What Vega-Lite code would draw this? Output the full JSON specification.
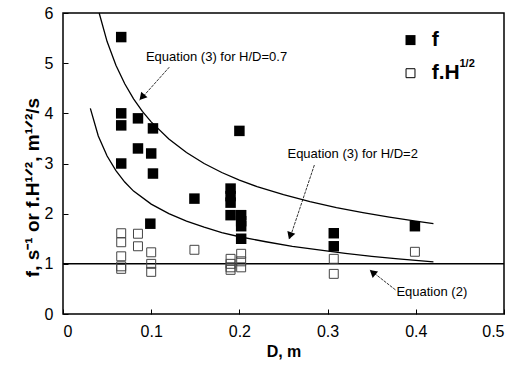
{
  "$schema": "https://vega.github.io/schema/vega-lite/v6.json",
  "width": 441,
  "height": 301,
  "autosize": {"type": "none"},
  "padding": {"left": 63, "top": 13, "right": 9, "bottom": 55},
  "background": "white",
  "config": {
    "view": {"stroke": "black", "strokeWidth": 1.5},
    "font": "Liberation Sans",
    "axis": {
      "grid": false,
      "domain": false,
      "labelFont": "Liberation Sans",
      "labelFontSize": 16,
      "labelColor": "black",
      "tickColor": "black",
      "titleFont": "Liberation Sans",
      "titleFontSize": 16,
      "titleFontWeight": "bold",
      "titleColor": "black"
    }
  },
  "datasets": {
    "f": [
      {"D": 0.066, "v": 5.52}, {"D": 0.066, "v": 4.0}, {"D": 0.066, "v": 3.76}, {"D": 0.066, "v": 3.0},
      {"D": 0.085, "v": 3.9}, {"D": 0.085, "v": 3.3},
      {"D": 0.102, "v": 3.7}, {"D": 0.1, "v": 3.2}, {"D": 0.102, "v": 2.8}, {"D": 0.099, "v": 1.8},
      {"D": 0.149, "v": 2.3},
      {"D": 0.19, "v": 2.5}, {"D": 0.19, "v": 2.35}, {"D": 0.19, "v": 2.22}, {"D": 0.19, "v": 1.97},
      {"D": 0.2, "v": 3.65}, {"D": 0.202, "v": 1.97}, {"D": 0.202, "v": 1.85}, {"D": 0.202, "v": 1.75}, {"D": 0.202, "v": 1.5},
      {"D": 0.307, "v": 1.61}, {"D": 0.307, "v": 1.35},
      {"D": 0.399, "v": 1.75}
    ],
    "fH": [
      {"D": 0.066, "v": 1.61}, {"D": 0.066, "v": 1.43}, {"D": 0.066, "v": 1.15}, {"D": 0.066, "v": 0.95}, {"D": 0.066, "v": 0.9},
      {"D": 0.085, "v": 1.6}, {"D": 0.085, "v": 1.35},
      {"D": 0.1, "v": 1.23}, {"D": 0.1, "v": 1.0}, {"D": 0.1, "v": 0.84},
      {"D": 0.149, "v": 1.28},
      {"D": 0.19, "v": 1.1}, {"D": 0.19, "v": 1.0}, {"D": 0.19, "v": 0.93}, {"D": 0.19, "v": 0.88},
      {"D": 0.202, "v": 1.2}, {"D": 0.202, "v": 1.05}, {"D": 0.202, "v": 0.93},
      {"D": 0.307, "v": 1.1}, {"D": 0.307, "v": 0.8},
      {"D": 0.399, "v": 1.24}
    ],
    "eq07": [
      {"D": 0.041, "v": 6.0}, {"D": 0.05, "v": 5.43}, {"D": 0.06, "v": 4.96}, {"D": 0.07, "v": 4.59},
      {"D": 0.08, "v": 4.29}, {"D": 0.09, "v": 4.04}, {"D": 0.1, "v": 3.83}, {"D": 0.12, "v": 3.49},
      {"D": 0.14, "v": 3.22}, {"D": 0.16, "v": 3.0}, {"D": 0.18, "v": 2.82}, {"D": 0.2, "v": 2.67},
      {"D": 0.22, "v": 2.54}, {"D": 0.25, "v": 2.38}, {"D": 0.28, "v": 2.24}, {"D": 0.31, "v": 2.12},
      {"D": 0.34, "v": 2.02}, {"D": 0.37, "v": 1.93}, {"D": 0.4, "v": 1.85}, {"D": 0.42, "v": 1.8}
    ],
    "eq2": [
      {"D": 0.031, "v": 4.1}, {"D": 0.04, "v": 3.55}, {"D": 0.05, "v": 3.15}, {"D": 0.06, "v": 2.86},
      {"D": 0.07, "v": 2.63}, {"D": 0.08, "v": 2.45}, {"D": 0.1, "v": 2.19}, {"D": 0.12, "v": 2.0},
      {"D": 0.14, "v": 1.85}, {"D": 0.16, "v": 1.73}, {"D": 0.18, "v": 1.62}, {"D": 0.2, "v": 1.54},
      {"D": 0.23, "v": 1.44}, {"D": 0.26, "v": 1.35}, {"D": 0.29, "v": 1.28}, {"D": 0.32, "v": 1.21},
      {"D": 0.35, "v": 1.15}, {"D": 0.38, "v": 1.1}, {"D": 0.42, "v": 1.04}
    ],
    "eqline": [{"D": 0, "v": 1}, {"D": 0.5, "v": 1}],
    "labels": [
      {"D": 0.094, "v": 5.12, "t": "Equation (3) for H/D=0.7"},
      {"D": 0.2545, "v": 3.19, "t": "Equation (3) for H/D=2"},
      {"D": 0.378, "v": 0.44, "t": "Equation (2)"}
    ],
    "arrows": [
      {"D": 0.1205, "v": 4.92, "D2": 0.087, "v2": 4.26},
      {"D": 0.285, "v": 2.97, "D2": 0.257, "v2": 1.5},
      {"D": 0.377, "v": 0.48, "D2": 0.348, "v2": 0.88}
    ],
    "heads": [
      {"D": 0.0895, "v": 4.32, "a": 221.6},
      {"D": 0.2575, "v": 1.56, "a": 199.6},
      {"D": 0.351, "v": 0.83, "a": 310}
    ],
    "legF": [{"D": 0.394, "v": 5.46}],
    "legFH": [{"D": 0.394, "v": 4.8}],
    "legT": [
      {"D": 0.418, "v": 5.46, "t": "f"},
      {"D": 0.418, "v": 4.8, "t": "f.H"}
    ],
    "legS": [{"D": 0.4495, "v": 4.98, "t": "1/2"}]
  },
  "layer": [
    {
      "data": {"name": "eqline"},
      "mark": {"type": "line", "color": "black", "strokeWidth": 1.5},
      "encoding": {
        "x": {"field": "D", "type": "quantitative", "scale": {"domain": [0, 0.5], "nice": false},
          "axis": {"values": [0, 0.1, 0.2, 0.3, 0.4, 0.5], "format": ".1~f", "tickSize": -5, "labelPadding": 14, "title": "D, m", "titlePadding": 4}},
        "y": {"field": "v", "type": "quantitative", "scale": {"domain": [0, 6], "nice": false},
          "axis": {"values": [0, 1, 2, 3, 4, 5, 6], "tickSize": -5, "labelPadding": 15, "title": "f, s⁻¹ or f.H¹ᐟ², m¹ᐟ²/s", "titleFontSize": 19, "titlePadding": 2, "titleY": 174}}
      }
    },
    {
      "data": {"name": "eq07"},
      "mark": {"type": "line", "color": "black", "strokeWidth": 1.3},
      "encoding": {"x": {"field": "D", "type": "quantitative"}, "y": {"field": "v", "type": "quantitative"}}
    },
    {
      "data": {"name": "eq2"},
      "mark": {"type": "line", "color": "black", "strokeWidth": 1.3},
      "encoding": {"x": {"field": "D", "type": "quantitative"}, "y": {"field": "v", "type": "quantitative"}}
    },
    {
      "data": {"name": "fH"},
      "mark": {"type": "point", "shape": "square", "size": 80, "filled": false, "stroke": "#444", "strokeWidth": 1, "fill": "white", "fillOpacity": 0, "opacity": 1},
      "encoding": {"x": {"field": "D", "type": "quantitative"}, "y": {"field": "v", "type": "quantitative"}}
    },
    {
      "data": {"name": "f"},
      "mark": {"type": "point", "shape": "square", "size": 110, "filled": true, "color": "black", "opacity": 1},
      "encoding": {"x": {"field": "D", "type": "quantitative"}, "y": {"field": "v", "type": "quantitative"}}
    },
    {
      "data": {"name": "arrows"},
      "mark": {"type": "rule", "color": "black", "strokeWidth": 0.8, "strokeDash": [3, 1]},
      "encoding": {
        "x": {"field": "D", "type": "quantitative"}, "y": {"field": "v", "type": "quantitative"},
        "x2": {"field": "D2"}, "y2": {"field": "v2"}
      }
    },
    {
      "data": {"name": "heads"},
      "mark": {"type": "point", "shape": "triangle-up", "size": 70, "filled": true, "color": "black", "opacity": 1},
      "encoding": {
        "x": {"field": "D", "type": "quantitative"}, "y": {"field": "v", "type": "quantitative"},
        "angle": {"field": "a", "type": "quantitative", "scale": null}
      }
    },
    {
      "data": {"name": "labels"},
      "mark": {"type": "text", "align": "left", "baseline": "middle", "fontSize": 13, "font": "Liberation Sans", "color": "black"},
      "encoding": {"x": {"field": "D", "type": "quantitative"}, "y": {"field": "v", "type": "quantitative"}, "text": {"field": "t"}}
    },
    {
      "data": {"name": "legF"},
      "mark": {"type": "point", "shape": "square", "size": 100, "filled": true, "color": "black", "opacity": 1},
      "encoding": {"x": {"field": "D", "type": "quantitative"}, "y": {"field": "v", "type": "quantitative"}}
    },
    {
      "data": {"name": "legFH"},
      "mark": {"type": "point", "shape": "square", "size": 80, "filled": false, "stroke": "black", "strokeWidth": 1, "opacity": 1},
      "encoding": {"x": {"field": "D", "type": "quantitative"}, "y": {"field": "v", "type": "quantitative"}}
    },
    {
      "data": {"name": "legT"},
      "mark": {"type": "text", "align": "left", "baseline": "middle", "fontSize": 21, "fontWeight": "bold", "font": "Liberation Sans", "color": "black"},
      "encoding": {"x": {"field": "D", "type": "quantitative"}, "y": {"field": "v", "type": "quantitative"}, "text": {"field": "t"}}
    },
    {
      "data": {"name": "legS"},
      "mark": {"type": "text", "align": "left", "baseline": "middle", "fontSize": 11, "fontWeight": "bold", "font": "Liberation Sans", "color": "black"},
      "encoding": {"x": {"field": "D", "type": "quantitative"}, "y": {"field": "v", "type": "quantitative"}, "text": {"field": "t"}}
    }
  ]
}
